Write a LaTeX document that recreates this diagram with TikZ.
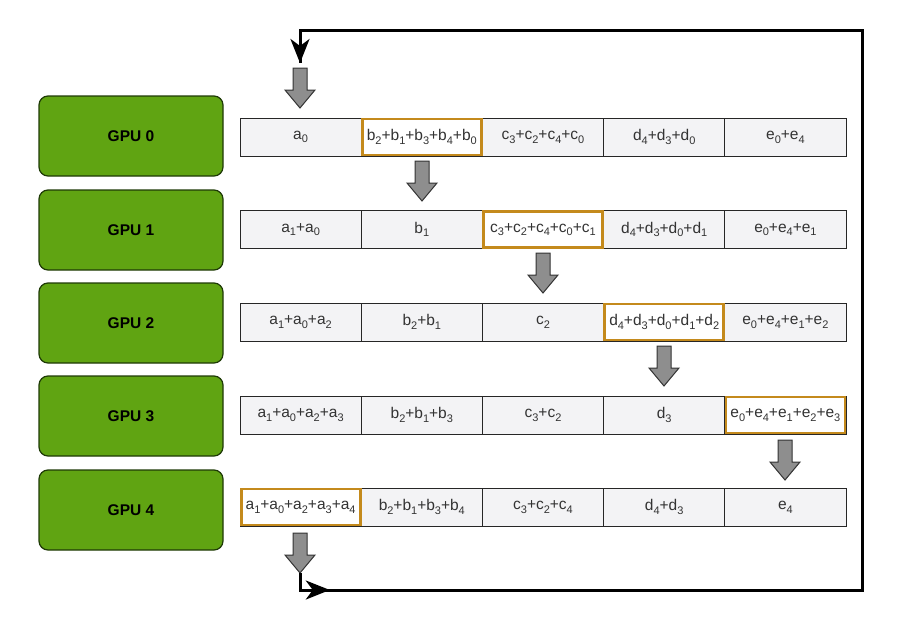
\documentclass[tikz,border=0pt]{standalone}
\usepackage{fontspec}
\setmainfont{Liberation Sans}
\usetikzlibrary{arrows.meta,decorations.markings}
\definecolor{gpugreen}{HTML}{60A412}
\definecolor{gpuline}{HTML}{1E3A06}
\definecolor{cellfill}{HTML}{F3F3F5}
\definecolor{hlorange}{HTML}{C48A1C}
\definecolor{arrgray}{HTML}{8E8E8E}
\definecolor{celltext}{HTML}{333333}
\newcommand\vv[2]{#1\raisebox{-0.45ex}{\fontsize{11}{11}\selectfont#2}}
\newcommand\garrow[3]{% name, x, ytop
  \fill[arrgray,draw=black!80,line width=1pt,line join=miter]
    (#2-7,#3) -- (#2+7,#3) -- (#2+7,#3+22) -- (#2+15,#3+22) -- (#2,#3+40)
    -- (#2-15,#3+22) -- (#2-7,#3+22) -- cycle;
  \coordinate (#1) at (#2,#3+40);}
\tikzset{
  gpubox/.style={draw=gpuline,fill=gpugreen,line width=1.2pt,rounded corners=9pt,
    minimum width=184pt,minimum height=80pt,inner sep=0pt,
    font=\fontsize{15.5}{17}\selectfont\bfseries},
  cellbox/.style={draw=black!85,fill=cellfill,line width=1pt,minimum width=121.2pt,
    minimum height=38pt,inner sep=0pt,text=celltext,font=\fontsize{15.5}{17}\selectfont},
  hlbox/.style={cellbox,draw=hlorange,fill=white,line width=2.8pt,minimum width=119pt,minimum height=36pt},
  loopline/.style={line width=3pt,black,line join=miter},
  looptip/.tip={Stealth[length=24pt,width=19pt,inset=7pt]},
}
\begin{document}
\begin{tikzpicture}[x=1pt,y=-1pt]
\useasboundingbox (0,0) rectangle (907,621);
% GPU boxes
\node[gpubox] (g0) at (131,136) {GPU 0};
\node[gpubox] (g1) at (131,230) {GPU 1};
\node[gpubox] (g2) at (131,323) {GPU 2};
\node[gpubox] (g3) at (131,416) {GPU 3};
\node[gpubox] (g4) at (131,510) {GPU 4};
% rows
\def\xa{300.6}\def\xb{421.8}\def\xc{543}\def\xd{664.2}\def\xe{785.4}
% row 0
\node[cellbox] (r0a) at (\xa,137) {\vv a0};
\node[cellbox] (r0b) at (\xb,137) {};
\node[cellbox] (r0c) at (\xc,137) {\vv c3+\vv c2+\vv c4+\vv c0};
\node[cellbox] (r0d) at (\xd,137) {\vv d4+\vv d3+\vv d0};
\node[cellbox] (r0e) at (\xe,137) {\vv e0+\vv e4};
\node[hlbox] (h0) at (\xb,137) {\vv b2+\vv b1+\vv b3+\vv b4+\vv b0};
% row 1
\node[cellbox] (r1a) at (\xa,229.5) {\vv a1+\vv a0};
\node[cellbox] (r1b) at (\xb,229.5) {\vv b1};
\node[cellbox] (r1c) at (\xc,229.5) {};
\node[cellbox] (r1d) at (\xd,229.5) {\vv d4+\vv d3+\vv d0+\vv d1};
\node[cellbox] (r1e) at (\xe,229.5) {\vv e0+\vv e4+\vv e1};
\node[hlbox] (h1) at (\xc,229.5) {\vv c3+\vv c2+\vv c4+\vv c0+\vv c1};
% row 2
\node[cellbox] (r2a) at (\xa,322) {\vv a1+\vv a0+\vv a2};
\node[cellbox] (r2b) at (\xb,322) {\vv b2+\vv b1};
\node[cellbox] (r2c) at (\xc,322) {\vv c2};
\node[cellbox] (r2d) at (\xd,322) {};
\node[cellbox] (r2e) at (\xe,322) {\vv e0+\vv e4+\vv e1+\vv e2};
\node[hlbox] (h2) at (\xd,322) {\vv d4+\vv d3+\vv d0+\vv d1+\vv d2};
% row 3
\node[cellbox] (r3a) at (\xa,415) {\vv a1+\vv a0+\vv a2+\vv a3};
\node[cellbox] (r3b) at (\xb,415) {\vv b2+\vv b1+\vv b3};
\node[cellbox] (r3c) at (\xc,415) {\vv c3+\vv c2};
\node[cellbox] (r3d) at (\xd,415) {\vv d3};
\node[cellbox] (r3e) at (\xe,415) {};
\node[hlbox] (h3) at (\xe,415) {\vv e0+\vv e4+\vv e1+\vv e2+\vv e3};
% row 4
\node[cellbox] (r4a) at (\xa,507) {};
\node[cellbox] (r4b) at (\xb,507) {\vv b2+\vv b1+\vv b3+\vv b4};
\node[cellbox] (r4c) at (\xc,507) {\vv c3+\vv c2+\vv c4};
\node[cellbox] (r4d) at (\xd,507) {\vv d4+\vv d3};
\node[cellbox] (r4e) at (\xe,507) {\vv e4};
\node[hlbox] (h4) at (\xa,507) {\vv a1+\vv a0+\vv a2+\vv a3+\vv a4};
% gray block arrows
\garrow{ta}{300}{68}
\garrow{a01}{422}{161}
\garrow{a12}{543}{253}
\garrow{a23}{664}{346}
\garrow{a34}{785}{440}
\garrow{ba}{300}{533}
% loop
\coordinate (c1) at (300,590);
\coordinate (c2) at (862,590);
\coordinate (c3) at (862,30);
\coordinate (c4) at (300,30);
\coordinate (tend) at (300,63);
\draw[loopline,postaction={decorate},decoration={markings,
   mark=at position 0.027 with {\arrow{looptip}}}]
  (ba) -- (c1) -- (c2) -- (c3) -- (c4) -- (tend);
\draw[loopline,-{looptip}] (c4) -- (tend);
\end{tikzpicture}
\end{document}
